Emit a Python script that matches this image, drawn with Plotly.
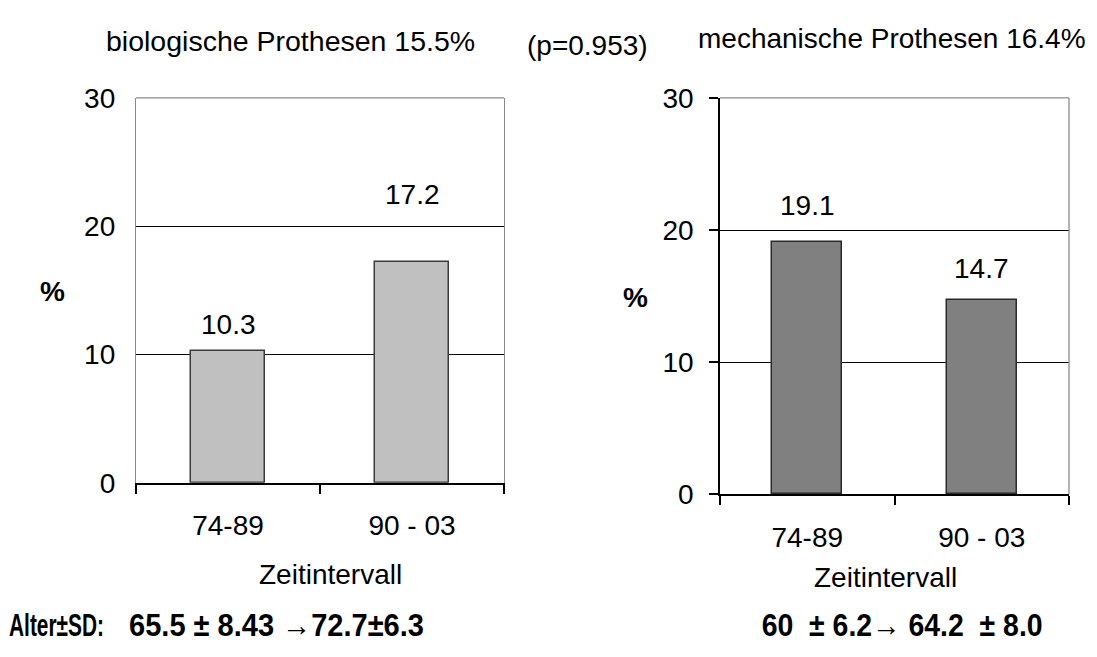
import plotly.graph_objects as go

# ---- data ----
categories = ["74-89", "90 - 03"]
bio_values = [10.3, 17.2]
mech_values = [19.1, 14.7]
y_ticks = [0, 10, 20, 30]
title_bio = "biologische Prothesen 15.5%"
title_mech = "mechanische Prothesen 16.4%"
p_text = "(p=0.953)"
age_head = "Alter±SD:"
age_bio = "65.5 ± 8.43 →72.7±6.3"
age_mech = "60  ± 6.2→ 64.2  ± 8.0"
x_title = "Zeitintervall"
y_title = "%"

# ---- styles ----
FONT = "Arial, 'Liberation Sans', sans-serif"
FS = 28
W, H = 1097, 657
bio_label_shift = [26, 68]
mech_label_shift = [36, 32]

def px(x):
    return x / W

def py(y):
    return 1 - y / H

fig = go.Figure()
fig.add_trace(go.Bar(x=categories, y=bio_values, width=0.4, xaxis="x", yaxis="y",
                     marker=dict(color="#C0C0C0", line=dict(color="#3a3a3a", width=1.5)),
                     showlegend=False, hoverinfo="x+y"))
fig.add_trace(go.Bar(x=categories, y=mech_values, width=0.4, xaxis="x2", yaxis="y2",
                     marker=dict(color="#808080", line=dict(color="#2a2a2a", width=1.5)),
                     showlegend=False, hoverinfo="x+y"))

xcommon = dict(type="category", range=[-0.5, 1.5], tickson="boundaries", ticks="outside",
               ticklen=9, tickwidth=1.5, tickcolor="black", showline=True, linecolor="black",
               linewidth=1.5, showgrid=False, tickfont=dict(family=FONT, size=FS, color="black"),
               ticklabelstandoff=17, fixedrange=True)
ycommon = dict(range=[0, 30], tickvals=y_ticks, showgrid=True, gridcolor="black", gridwidth=1.3,
               zeroline=False, tickfont=dict(family=FONT, size=FS, color="black"), fixedrange=True)

fig.update_layout(
    width=W, height=H, margin=dict(l=0, r=0, t=0, b=0),
    paper_bgcolor="white", plot_bgcolor="white", bargap=0,
    xaxis=dict(domain=[px(136), px(504)], anchor="y", **xcommon),
    yaxis=dict(domain=[py(491), py(87)], anchor="x", showline=True, linecolor="#8a8a8a",
               linewidth=1.3, mirror=True, ticks="", ticklabelstandoff=14, **ycommon),
    xaxis2=dict(domain=[px(720), px(1069)], anchor="y2", **xcommon),
    yaxis2=dict(domain=[py(503), py(87)], anchor="x2", showline=True, linecolor="black",
                linewidth=1.5, ticks="outside", ticklen=9, tickwidth=1.5, tickcolor="black",
                ticklabelstandoff=10, **ycommon),
)

# grey frame parts
fig.add_shape(type="line", xref="x domain", yref="y domain", x0=0, x1=1, y0=1, y1=1,
              line=dict(color="#8a8a8a", width=1.3))
fig.add_shape(type="line", xref="x2 domain", yref="y2 domain", x0=0, x1=1, y0=1, y1=1,
              line=dict(color="#8a8a8a", width=1.3))
fig.add_shape(type="line", xref="x2 domain", yref="y2 domain", x0=1, x1=1, y0=0, y1=1,
              line=dict(color="#8a8a8a", width=1.3))

# value labels
for c, v, s in zip(categories, bio_values, bio_label_shift):
    fig.add_annotation(x=c, y=v, xref="x", yref="y", text=f"{v:.1f}", showarrow=False,
                       yanchor="middle", yshift=s, font=dict(family=FONT, size=FS, color="black"))
for c, v, s in zip(categories, mech_values, mech_label_shift):
    fig.add_annotation(x=c, y=v, xref="x2", yref="y2", text=f"{v:.1f}", showarrow=False,
                       yanchor="middle", yshift=s, font=dict(family=FONT, size=FS, color="black"))

def txt(text, x, y, xanchor="center", size=FS, bold=False):
    fig.add_annotation(x=px(x), y=py(y), xref="paper", yref="paper",
                       text=f"<b>{text}</b>" if bold else text,
                       showarrow=False, xanchor=xanchor, yanchor="middle",
                       font=dict(family=FONT, size=size, color="black"))

txt(title_bio, 290, 27, size=28.5)
txt(p_text, 587, 32)
txt(title_mech, 892, 25)
txt(x_title, 330, 587)
txt(x_title, 885, 590)
txt(y_title, 52, 290, bold=True)
txt(y_title, 635, 297, bold=True)
txt(age_head, 7, 641, xanchor="left", size=31, bold=True)
txt(age_bio, 127, 641, xanchor="left", size=31, bold=True)
txt(age_mech, 902, 641, size=31, bold=True)

# the bottom lines are set in a condensed bold face: squeeze them horizontally
post = """
var targets = [
  {prefix: 'Alter', width: 95, anchor: 'left'},
  {prefix: '65.5', width: 295, anchor: 'left'},
  {prefix: '60', width: 281, anchor: 'middle'}
];
document.querySelectorAll('text.annotation-text').forEach(function(t){
  var s = t.textContent;
  targets.forEach(function(tg){
    if (s.indexOf(tg.prefix) === 0){
      var bb = t.getBBox();
      var k = tg.width / bb.width;
      var cx = tg.anchor === 'left' ? bb.x : bb.x + bb.width / 2;
      t.setAttribute('transform', 'translate(' + (cx * (1 - k)) + ',0) scale(' + k + ',1)');
    }
  });
});
"""

fig.write_html("out.html", config={"displayModeBar": False}, post_script=post)
